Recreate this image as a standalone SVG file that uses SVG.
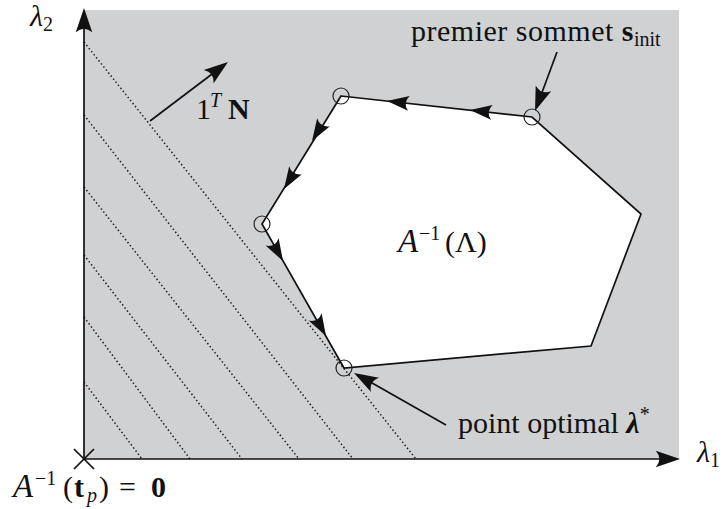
<svg xmlns="http://www.w3.org/2000/svg" xmlns:xlink="http://www.w3.org/1999/xlink" width="723" height="509" viewBox="0 0 723 509">
<style>
text{font-family:"Liberation Serif","Times New Roman",serif;font-size:30px;fill:#111}
.it{font-style:italic}
.b{font-weight:bold}
.sm{font-size:20px}
.dot{stroke:#222;stroke-width:1.5;stroke-dasharray:1.5 2.4;fill:none}
.edge{stroke:#111;stroke-width:1.7;fill:none}
.circ{stroke:#222;stroke-width:1.2;fill:none}
.ah{fill:#111}
</style>
<defs>
<path id="ah" d="M0,0 L-22,-7.5 Q-15.5,0 -22,7.5 Z"/>
</defs>
<g id="background">
<rect x="84" y="10" width="595" height="449" fill="#d0d1d3"/>
</g>
<g id="level-lines">
<line class="dot" x1="84" y1="42" x2="416" y2="459"/>
<line class="dot" x1="84" y1="115" x2="353" y2="459"/>
<line class="dot" x1="84" y1="187" x2="299" y2="459"/>
<line class="dot" x1="84" y1="255" x2="242" y2="459"/>
<line class="dot" x1="84" y1="317" x2="190" y2="459"/>
<line class="dot" x1="84" y1="382" x2="142" y2="459"/>
</g>
<g id="polytope">
<polygon points="341,96 532,117 641,214 591,346 344,368 262,224" fill="#fff" stroke="#111" stroke-width="1.7" stroke-linejoin="miter"/>
<text x="398" y="252"><tspan class="it" font-size="33">A</tspan><tspan class="sm" x="419" dy="-12">−1</tspan><tspan x="445" dy="12">(Λ)</tspan></text>
</g>
<g id="vertices">
<circle class="circ" cx="341" cy="96" r="8"/>
<circle class="circ" cx="532" cy="117" r="8"/>
<circle class="circ" cx="262" cy="224" r="8"/>
<circle class="circ" cx="344" cy="368" r="8"/>
</g>
<g id="connectors">
<use xlink:href="#ah" class="ah" transform="translate(470,110) rotate(186.3)"/>
<use xlink:href="#ah" class="ah" transform="translate(387,101) rotate(186.3)"/>
<use xlink:href="#ah" class="ah" transform="translate(312,141) rotate(121.7)"/>
<use xlink:href="#ah" class="ah" transform="translate(284,189) rotate(121.7)"/>
<use xlink:href="#ah" class="ah" transform="translate(283,261) rotate(60.3)"/>
<use xlink:href="#ah" class="ah" transform="translate(326,336) rotate(60.3)"/>
<line class="edge" x1="150" y1="121" x2="224" y2="65"/>
<use xlink:href="#ah" class="ah" transform="translate(228,62) rotate(-37.1) scale(1.1)"/>
<line class="edge" x1="557" y1="52" x2="537" y2="106"/>
<use xlink:href="#ah" class="ah" transform="translate(535,111) rotate(110.4) scale(1.1)"/>
<line class="edge" x1="446" y1="425" x2="358" y2="375"/>
<use xlink:href="#ah" class="ah" transform="translate(354,373) rotate(209.5) scale(1.1)"/>
</g>
<g id="axes">
<line class="edge" x1="84" y1="459" x2="84" y2="14"/>
<use xlink:href="#ah" class="ah" transform="translate(84,8) rotate(-90) scale(1.1)"/>
<line class="edge" x1="84" y1="459" x2="674" y2="459"/>
<use xlink:href="#ah" class="ah" transform="translate(680,459) scale(1.1)"/>
<line class="edge" x1="74" y1="449" x2="94" y2="469" stroke-width="1.3"/>
<line class="edge" x1="74" y1="469" x2="94" y2="449" stroke-width="1.3"/>
</g>
<g id="labels">
<text x="30" y="26"><tspan class="it">λ</tspan><tspan class="sm" dy="5">2</tspan></text>
<text x="697" y="462"><tspan class="it">λ</tspan><tspan class="sm" dy="5">1</tspan></text>
<text x="196" y="119">1<tspan class="sm it" x="210" dy="-12">T</tspan><tspan class="b" x="228" dy="12">N</tspan></text>
<text x="411" y="41" letter-spacing="0.5">premier sommet <tspan class="b">s</tspan><tspan class="sm" dy="5" letter-spacing="0">init</tspan></text>
<text x="458" y="433">point optimal <tspan class="b it">λ</tspan><tspan class="sm" dy="-12">*</tspan></text>
<text x="13" y="497"><tspan class="it" font-size="33">A</tspan><tspan class="sm" x="35" dy="-12">−1</tspan><tspan x="63" dy="12">(</tspan><tspan class="b" x="74">t</tspan><tspan class="sm it" x="87" dy="5">p</tspan><tspan x="99" dy="-5">)</tspan><tspan x="119">=</tspan><tspan class="b" x="151">0</tspan></text>
</g>
</svg>
